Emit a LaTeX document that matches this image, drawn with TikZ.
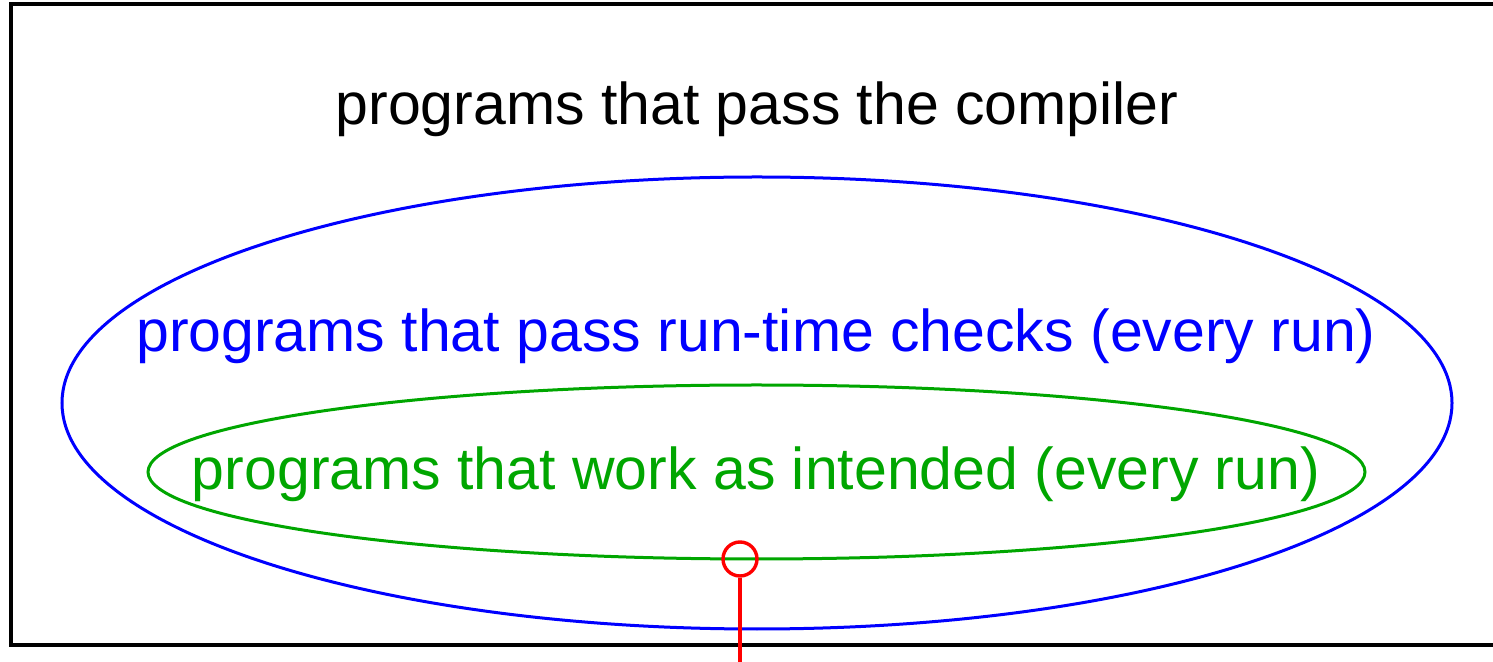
\documentclass[tikz,border=0pt]{standalone}
\usepackage{fontspec}
\setmainfont{Liberation Sans}
\usetikzlibrary{shapes.geometric}
\definecolor{setblue}{RGB}{0,0,255}
\definecolor{setgreen}{RGB}{0,166,0}
\definecolor{markred}{RGB}{255,0,0}
\tikzset{
  settext/.style={anchor=base, inner sep=0pt, font=\fontsize{59}{70}\selectfont},
  setoval/.style={ellipse, draw, line width=3pt, inner sep=0pt},
  marker/.style={circle, draw=markred, line width=3.4pt, minimum size=34pt, inner sep=0pt},
}
\begin{document}
\begin{tikzpicture}[x=1pt, y=1pt]
  \useasboundingbox (0,0) rectangle (1493,661);
  % universe of programs
  \draw[line width=3.5pt] (1510,16) -- (11,16) -- (11,657) -- (1510,657);
  \node[settext] (compiler) at (757,536) {programs that pass the compiler};
  % run-time checks set
  \node[setoval, draw=setblue, minimum width=1390pt, minimum height=452pt] (runtime) at (757,258) {};
  \node[settext, text=setblue] (runtimelabel) at (756,309) {programs that pass run-time checks (every run)};
  % intended behaviour set
  \node[setoval, draw=setgreen, minimum width=1217pt, minimum height=174pt] (intended) at (756.5,189) {};
  \node[settext, text=setgreen] (intendedlabel) at (756,171) {programs that work as intended (every run)};
  % marker on the boundary
  \node[marker] (mark) at (740,102) {};
  \coordinate (markend) at (740,-2);
  \draw[markred, line width=3.4pt] (mark.south) -- (markend);
\end{tikzpicture}
\end{document}
